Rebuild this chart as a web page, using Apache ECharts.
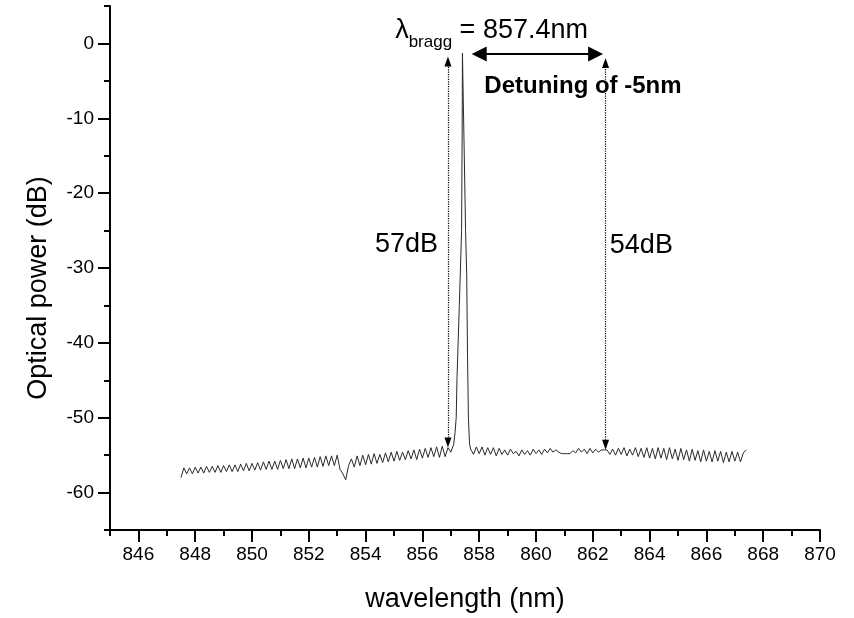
<!DOCTYPE html>
<html>
<head>
<meta charset="utf-8">
<script src="https://cdn.jsdelivr.net/npm/echarts@6.0.0/dist/echarts.min.js"></script>
<style>
  html, body { margin: 0; padding: 0; background: #fff; }
  #chart { width: 854px; height: 618px; }
</style>
</head>
<body>
<div id="chart"></div>
<script>
const WL_STEP = 0.1
const LEFT_START = 847.5
const leftPower = [
  -58.0, -56.7, -57.5, -56.7, -57.5, -56.6, -57.4, -56.6, -57.4, -56.5,
  -57.3, -56.5, -57.3, -56.4, -57.3, -56.4, -57.2, -56.3, -57.2, -56.3,
  -57.2, -56.2, -57.1, -56.1, -57.1, -56.1, -57.0, -56.0, -57.0, -55.9,
  -56.9, -55.8, -56.9, -55.8, -56.9, -55.7, -56.8, -55.6, -56.8, -55.5,
  -56.8, -55.5, -56.7, -55.4, -56.7, -55.4, -56.6, -55.3, -56.6, -55.2,
  -56.5, -55.1, -56.4, -55.1, -56.4, -55.0, -56.9, -57.5, -58.3, -56.4,
  -55.5, -56.6, -55.1, -56.4, -55.0, -56.3, -54.9, -56.2, -54.8, -56.1,
  -54.9, -56.0, -54.7, -55.9, -54.6, -55.8, -54.5, -55.7, -54.6, -55.6,
  -54.4, -55.5, -54.3, -55.6, -54.2, -55.4, -54.1, -55.3, -54.0, -55.2,
  -53.9, -55.3, -53.8, -55.2, -54.0
]
// the Bragg peak itself: [wavelength, dB]
const peakPoints = [
  [857.0, -54.6], [857.1, -53.6], [857.15, -52.0], [857.19, -50.0],
  [857.22, -44.5], [857.3, -35.0], [857.38, -25.0], [857.40, -12.0],
  [857.41, -1.3], [857.45, -1.3], [857.47, -14.0], [857.52, -25.0],
  [857.56, -31.0], [857.59, -42.0], [857.62, -50.0], [857.66, -53.5]
]
const RIGHT_START = 857.7
const rightPower = [
  -54.2, -54.9, -53.9, -54.8, -53.9, -55.0, -54.0, -54.9, -54.0, -55.1,
  -54.1, -54.9, -54.3, -55.0, -54.2, -54.8, -54.5, -55.1, -54.3, -54.9,
  -54.4, -55.0, -54.2, -54.8, -54.3, -54.9, -54.2, -54.7, -54.1, -54.6,
  -54.3, -54.6, -54.8, -54.8, -54.8, -54.8, -54.4, -54.7, -54.1, -54.6,
  -54.2, -54.8, -54.1, -54.7, -54.2, -54.6, -54.3, -54.3, -54.3, -54.9,
  -54.2, -55.0, -54.1, -54.9, -54.0, -55.1, -54.2, -55.0, -54.0, -55.2,
  -54.1, -55.3, -54.0, -55.4, -54.1, -55.5, -54.0, -55.4, -54.1, -55.6,
  -54.0, -55.5, -54.2, -55.7, -54.1, -55.6, -54.3, -55.8, -54.2, -55.7,
  -54.4, -55.9, -54.3, -55.8, -54.5, -55.9, -54.4, -55.8, -54.5, -56.0,
  -54.6, -55.9, -54.5, -55.8, -54.6, -55.9, -54.7, -54.3
]

// axis ticks
const xMajorTicks = [846, 848, 850, 852, 854, 856, 858, 860, 862, 864, 866, 868, 870]
const xMinorTicks = [845, 847, 849, 851, 853, 855, 857, 859, 861, 863, 865, 867, 869]
const yMajorTicks = [-60, -50, -40, -30, -20, -10, 0]
const yMinorTicks = [-65, -55, -45, -35, -25, -15, -5, 5]

const FONT = 'Liberation Sans, Arial, sans-serif'

const spectrum = []
leftPower.forEach((v, i) => spectrum.push([+(LEFT_START + i * WL_STEP).toFixed(2), v]))
peakPoints.forEach(p => spectrum.push(p))
rightPower.forEach((v, i) => spectrum.push([+(RIGHT_START + i * WL_STEP).toFixed(2), v]))

const chart = echarts.init(document.getElementById('chart'), null, { renderer: 'canvas' })

const axisLine = { show: true, onZero: false, lineStyle: { color: '#000', width: 2 } }
const hiddenLine = { show: false, onZero: false }

const option = {
  animation: false,
  backgroundColor: '#fff',
  textStyle: { fontFamily: FONT, color: '#000' },
  grid: { left: 110, right: 34, top: 6, bottom: 87 },
  xAxis: [
    {
      type: 'value', min: 845, max: 870, position: 'bottom',
      name: 'wavelength (nm)', nameLocation: 'middle', nameGap: 56,
      nameTextStyle: { fontSize: 27, color: '#000', fontFamily: FONT },
      axisLine,
      axisTick: { show: true, length: 12, customValues: xMajorTicks, lineStyle: { color: '#000', width: 2 } },
      axisLabel: { show: true, customValues: xMajorTicks, fontSize: 19, color: '#000', margin: 15, fontFamily: FONT },
      splitLine: { show: false }
    },
    {
      type: 'value', min: 845, max: 870, position: 'bottom',
      axisLine: hiddenLine,
      axisTick: { show: true, length: 6, customValues: xMinorTicks, lineStyle: { color: '#000', width: 2 } },
      axisLabel: { show: false },
      splitLine: { show: false }
    }
  ],
  yAxis: [
    {
      type: 'value', min: -65, max: 5, position: 'left',
      name: 'Optical power (dB)', nameLocation: 'middle', nameGap: 58, nameRotate: 90,
      nameTextStyle: { fontSize: 27, color: '#000', fontFamily: FONT, padding: [0, 40, 0, 0] },
      axisLine,
      axisTick: { show: true, length: 12, customValues: yMajorTicks, lineStyle: { color: '#000', width: 2 } },
      axisLabel: { show: true, customValues: yMajorTicks, fontSize: 19, color: '#000', margin: 16, fontFamily: FONT },
      splitLine: { show: false }
    },
    {
      type: 'value', min: -65, max: 5, position: 'left',
      axisLine: hiddenLine,
      axisTick: { show: true, length: 6, customValues: yMinorTicks, lineStyle: { color: '#000', width: 2 } },
      axisLabel: { show: false },
      splitLine: { show: false }
    }
  ],
  series: [
    {
      name: 'spectrum',
      type: 'line',
      data: spectrum,
      showSymbol: false,
      lineStyle: { color: '#2a2a2a', width: 1 },
      markLine: {
        silent: true,
        animation: false,
        label: { show: false },
        data: [
          // dotted double arrows at the Bragg wavelength and at the detuned one
          [
            { coord: [856.9, -53.3], symbol: 'triangle', symbolSize: [7, 10] },
            { coord: [856.9, -2.4], symbol: 'triangle', symbolSize: [7, 10],
              lineStyle: { type: 'dotted', color: '#000', width: 1.2 } }
          ],
          [
            { coord: [862.45, -53.6], symbol: 'triangle', symbolSize: [7, 10] },
            { coord: [862.45, -2.6], symbol: 'triangle', symbolSize: [7, 10],
              lineStyle: { type: 'dotted', color: '#000', width: 1.2 } }
          ],
          // solid detuning arrow
          [
            { coord: [858.0, -1.4], symbol: 'triangle', symbolSize: [15, 15] },
            { coord: [862.1, -1.4], symbol: 'triangle', symbolSize: [15, 15],
              lineStyle: { type: 'solid', color: '#000', width: 2 } }
          ]
        ]
      },
      markPoint: {
        silent: true,
        animation: false,
        symbol: 'circle',
        symbolSize: 1,
        itemStyle: { color: 'rgba(0,0,0,0)' },
        data: [
          {
            coord: [856.55, -26.9],
            label: { show: true, position: 'inside', align: 'right', verticalAlign: 'middle',
              formatter: '57dB', fontSize: 27, color: '#000', fontFamily: FONT }
          },
          {
            coord: [862.6, -27.0],
            label: { show: true, position: 'inside', align: 'left', verticalAlign: 'middle',
              formatter: '54dB', fontSize: 27, color: '#000', fontFamily: FONT }
          },
          {
            coord: [858.18, -5.8],
            label: { show: true, position: 'inside', align: 'left', verticalAlign: 'middle',
              formatter: 'Detuning of -5nm', fontSize: 24, fontWeight: 'bold', color: '#000', fontFamily: FONT }
          },
          {
            coord: [855.04, 1.3],
            label: {
              show: true, position: 'inside', align: 'left', verticalAlign: 'middle',
              formatter: '{l|λ}{s|bragg}{n| = 857.4nm}',
              rich: {
                l: { fontSize: 27, color: '#000', fontFamily: FONT, lineHeight: 30, verticalAlign: 'top' },
                s: { fontSize: 17, color: '#000', fontFamily: FONT, padding: [17, 0, 0, 0], verticalAlign: 'top' },
                n: { fontSize: 27, color: '#000', fontFamily: FONT, lineHeight: 30, verticalAlign: 'top' }
              }
            }
          }
        ]
      }
    }
  ]
}

chart.setOption(option)
</script>
</body>
</html>
